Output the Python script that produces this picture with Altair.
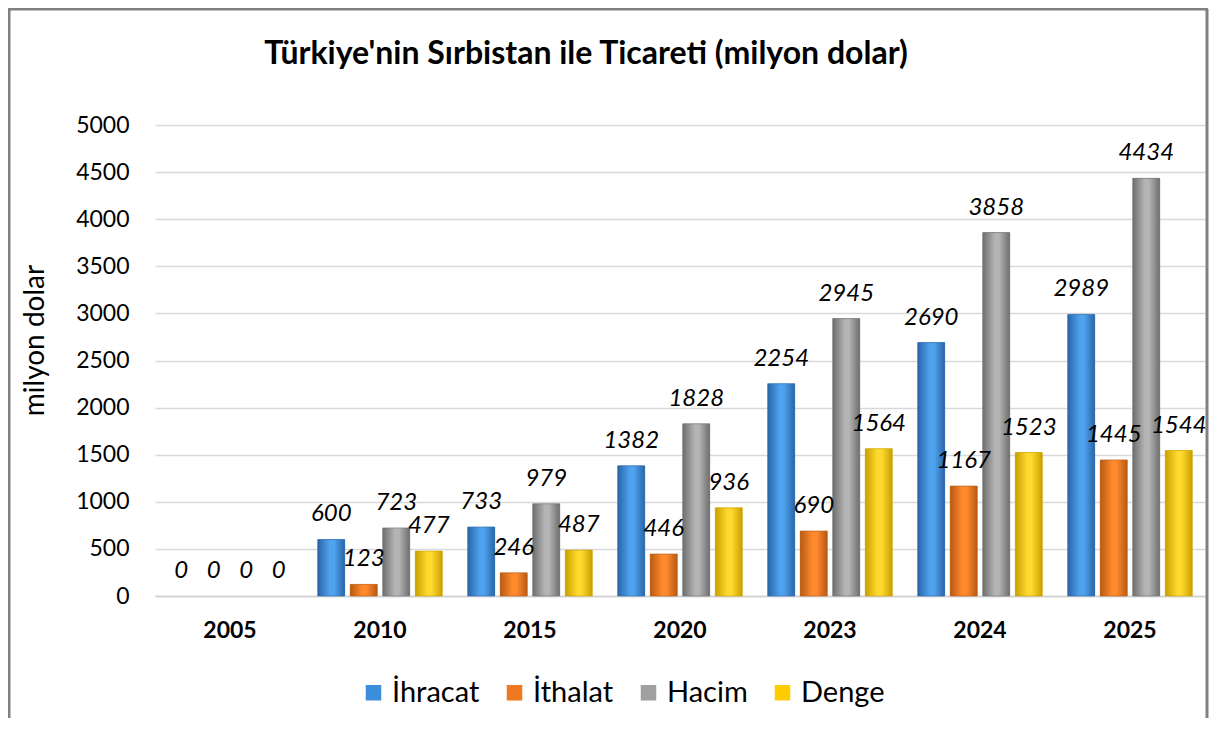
import altair as alt
import pandas as pd

years = ["2005", "2010", "2015", "2020", "2023", "2024", "2025"]
series = ["İhracat", "İthalat", "Hacim", "Denge"]
ihracat = [0, 600, 733, 1382, 2254, 2690, 2989]
ithalat = [0, 123, 246, 446, 690, 1167, 1445]
hacim = [0, 723, 979, 1828, 2945, 3858, 4434]
denge = [0, 477, 487, 936, 1564, 1523, 1544]

base_colors = ["#3C8EDB", "#F07820", "#A0A0A0", "#FFCC00"]
edge_colors = ["#2A65A8", "#B85A12", "#6E6E6E", "#C9A000"]
mid_colors = ["#4FA3EE", "#FF8A2E", "#B4B4B4", "#FFD92E"]

rows = []
for name, vals in zip(series, [ihracat, ithalat, hacim, denge]):
    for y, v in zip(years, vals):
        rows.append({"Yıl": y, "Seri": name, "Değer": v})
df = pd.DataFrame(rows)

FONT = "Lato"

x_enc = alt.X("Yıl:N", sort=years,
              scale=alt.Scale(paddingInner=0.17, paddingOuter=0.085),
              axis=alt.Axis(title=None, labelFont=FONT, labelFontSize=23, labelFontWeight="bold",
                            labelColor="#000000", labelAngle=0, ticks=False, tickSize=0,
                            labelPadding=23, domainColor="#D0D0D0", domainWidth=1.5))
xoff = alt.XOffset("Seri:N", sort=series, scale=alt.Scale(paddingInner=0.17, paddingOuter=0))
y_enc = alt.Y("Değer:Q", scale=alt.Scale(domain=[0, 5000]),
              axis=alt.Axis(values=list(range(0, 5001, 500)), format="d", title="milyon dolar",
                            titleFont=FONT, titleFontSize=28, titleFontWeight="normal",
                            titleColor="#000000", titleAngle=-90, titleX=-120, titleY=215,
                            titleAlign="center", titleBaseline="middle",
                            labelFont=FONT, labelFontSize=23, labelColor="#000000",
                            labelPadding=26, ticks=False, tickSize=0, domain=False,
                            gridColor="#D9D9D9", gridWidth=1.5))

base = alt.Chart(df).mark_bar().encode(
    x=x_enc, xOffset=xoff, y=y_enc,
    color=alt.Color("Seri:N", sort=series,
                    scale=alt.Scale(domain=series, range=base_colors),
                    legend=alt.Legend(title=None, orient="none", direction="horizontal",
                                      legendX=204, legendY=553, symbolType="square",
                                      symbolSize=240, symbolStrokeWidth=0,
                                      labelFont=FONT, labelFontSize=29, labelColor="#000000",
                                      labelOffset=4, columnPadding=20))
)

layers = [base]
for s, e, m in zip(series, edge_colors, mid_colors):
    grad = alt.LinearGradient(gradient="linear", x1=0, x2=1, y1=0, y2=0,
                              stops=[alt.GradientStop(color=e, offset=0),
                                     alt.GradientStop(color=m, offset=0.45),
                                     alt.GradientStop(color=m, offset=0.6),
                                     alt.GradientStop(color=e, offset=1)])
    layers.append(
        alt.Chart(df).transform_filter((alt.datum["Seri"] == s) & (alt.datum["Değer"] > 0))
        .mark_bar(color=grad, stroke=e, strokeWidth=0.6)
        .encode(x=x_enc, xOffset=xoff, y=y_enc)
    )

labels = alt.Chart(df).mark_text(font=FONT, fontSize=24, fontStyle="italic",
                                 baseline="alphabetic", dy=-18, color="#000000").encode(
    x=x_enc, xOffset=xoff, y=y_enc, text="Değer:Q")
layers.append(labels)

frame_df = pd.DataFrame({"k": [0]})
frame_style = dict(color="#808080", strokeWidth=3)
left = alt.Chart(frame_df).mark_rule(**frame_style).encode(
    x=alt.value(-146), y=alt.value(-116), y2=alt.value(600))
right = alt.Chart(frame_df).mark_rule(**frame_style).encode(
    x=alt.value(1052), y=alt.value(-116), y2=alt.value(600))
top = alt.Chart(frame_df).mark_rule(**frame_style).encode(
    x=alt.value(-147), x2=alt.value(1053), y=alt.value(-116))
layers += [left, right, top]

chart = alt.layer(*layers).properties(
    width=1050, height=471,
    title=alt.TitleParams("Türkiye'nin Sırbistan ile Ticareti (milyon dolar)",
                          font=FONT, fontSize=32, fontWeight="bold", color="#000000",
                          anchor="middle", frame="group", dx=-94, offset=0, dy=63),
    autosize=alt.AutoSizeParams(type="none"),
    padding={"left": 147, "top": 117, "right": 4, "bottom": 122},
    background="#FFFFFF"
).configure_view(stroke=None)

chart.save("out.html", embed_options={"renderer": "svg", "actions": False})
